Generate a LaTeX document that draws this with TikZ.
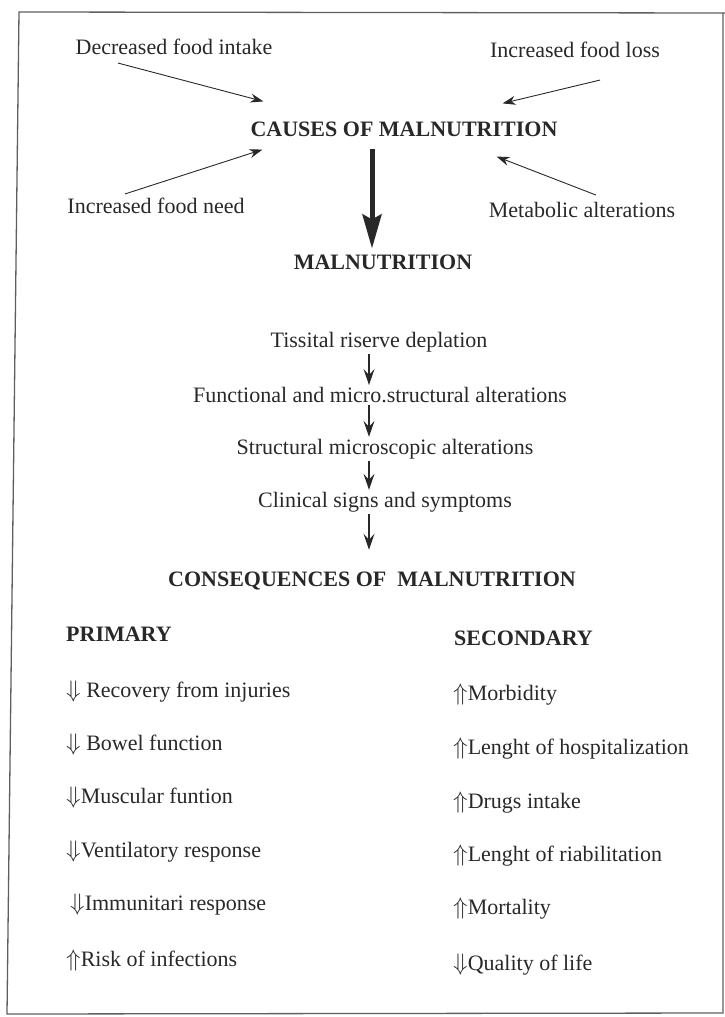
\documentclass[tikz,border=0pt]{standalone}
\usepackage{fontspec}
\setmainfont{Liberation Serif}
\usetikzlibrary{arrows.meta,positioning,calc}
\definecolor{ink}{RGB}{40,40,40}
\definecolor{frame}{RGB}{95,95,95}

\tikzset{
  txt/.style = {text = ink, font = \fontsize{22}{26}\selectfont, inner sep = 2pt},
  head/.style = {txt, font = \bfseries\fontsize{22}{26}\selectfont},
  item/.style = {txt, anchor = west},
  cause/.style = {draw = ink, line width = .9pt, -{Stealth[length = 13pt, width = 9pt]}},
  chainarrow/.style = {draw = ink, line width = 1.2pt, -{Stealth[length = 16pt, width = 11pt, inset = 6pt]}},
  mainarrow/.style = {draw = ink, line width = 5pt, -{Stealth[length = 34pt, width = 19pt, inset = 5pt]}}
}
\newcommand{\dn}{\scalebox{1.15}{$\Downarrow$}}
\newcommand{\upp}{\scalebox{1.15}{$\Uparrow$}}

\begin{document}
\begin{tikzpicture}[x = 1pt, y = -1pt]
  \useasboundingbox (0,0) rectangle (725,1017);
  \draw [frame, line width = 1.3pt] (19,12) -- (725,13) -- (723,13) -- (723,1013) -- (7,1014) -- cycle;

  % causes
  \node (causes) at (404,129) [head] {CAUSES OF MALNUTRITION};
  \node (dfi)    at (174,47)  [txt] {Decreased food intake};
  \node (ifl)    at (575,50)  [txt] {Increased food loss};
  \node (ifn)    at (156,206) [txt] {Increased food need};
  \node (meta)   at (582,210) [txt] {Metabolic alterations};
  \node (maln)   at (383,262) [head] {MALNUTRITION};

  \draw [cause] ($(dfi.south)+(-56,6)$)  -- ($(causes.north west)+(15,-18)$);
  \draw [cause] ($(ifl.south)+(25,20)$)  -- ($(causes.north east)+(-57,-16)$);
  \draw [cause] ($(ifn.north)+(-31,-2)$) -- ($(causes.south west)+(14,11)$);
  \draw [cause] ($(meta.north)+(14,-5)$) -- ($(causes.south east)+(-63,18)$);
  \coordinate (axis) at (372,0);
  \draw [mainarrow, shorten <= 10pt, shorten >= 4pt] (causes.south -| axis) -- (maln.north -| axis);

  % stages
  \node (tissue) at (379,342) [txt] {Tissital riserve deplation};
  \node (func)   at (380,395) [txt] {Functional and micro.structural alterations};
  \node (struct) at (385,449) [txt] {Structural microscopic alterations};
  \node (clin)   at (385,502) [txt] {Clinical signs and symptoms};
  \node (conseq) at (372,581) [head] {CONSEQUENCES OF \ MALNUTRITION};

  \coordinate (chain) at (369,0);
  \draw [chainarrow] (tissue.south -| chain) -- (func.north -| chain);
  \draw [chainarrow] (func.south -| chain)   -- (struct.north -| chain);
  \draw [chainarrow] (struct.south -| chain) -- (clin.north -| chain);
  \draw [chainarrow, shorten >= 20pt] (clin.south -| chain) -- (conseq.north -| chain);

  % consequences
  \node (prim) at (64,634) [head, anchor = west] {PRIMARY};
  \node (sec)  at (452,638) [head, anchor = west] {SECONDARY};

  \node (p1) at (64,692) [item] {\dn{} Recovery from injuries};
  \node (p2) at (64,745) [item] {\dn{} Bowel function};
  \node (p3) at (64,798) [item] {\dn{}Muscular funtion};
  \node (p4) at (64,852) [item] {\dn{}Ventilatory response};
  \node (p5) at (68,905) [item] {\dn{}Immunitari response};
  \node (p6) at (64,961) [item] {\upp{}Risk of infections};

  \node (s1) at (451,695) [item] {\upp{}Morbidity};
  \node (s2) at (451,749) [item] {\upp{}Lenght of hospitalization};
  \node (s3) at (451,803) [item] {\upp{}Drugs intake};
  \node (s4) at (451,856) [item] {\upp{}Lenght of riabilitation};
  \node (s5) at (451,909) [item] {\upp{}Mortality};
  \node (s6) at (451,965) [item] {\dn{}Quality of life};
\end{tikzpicture}
\end{document}
